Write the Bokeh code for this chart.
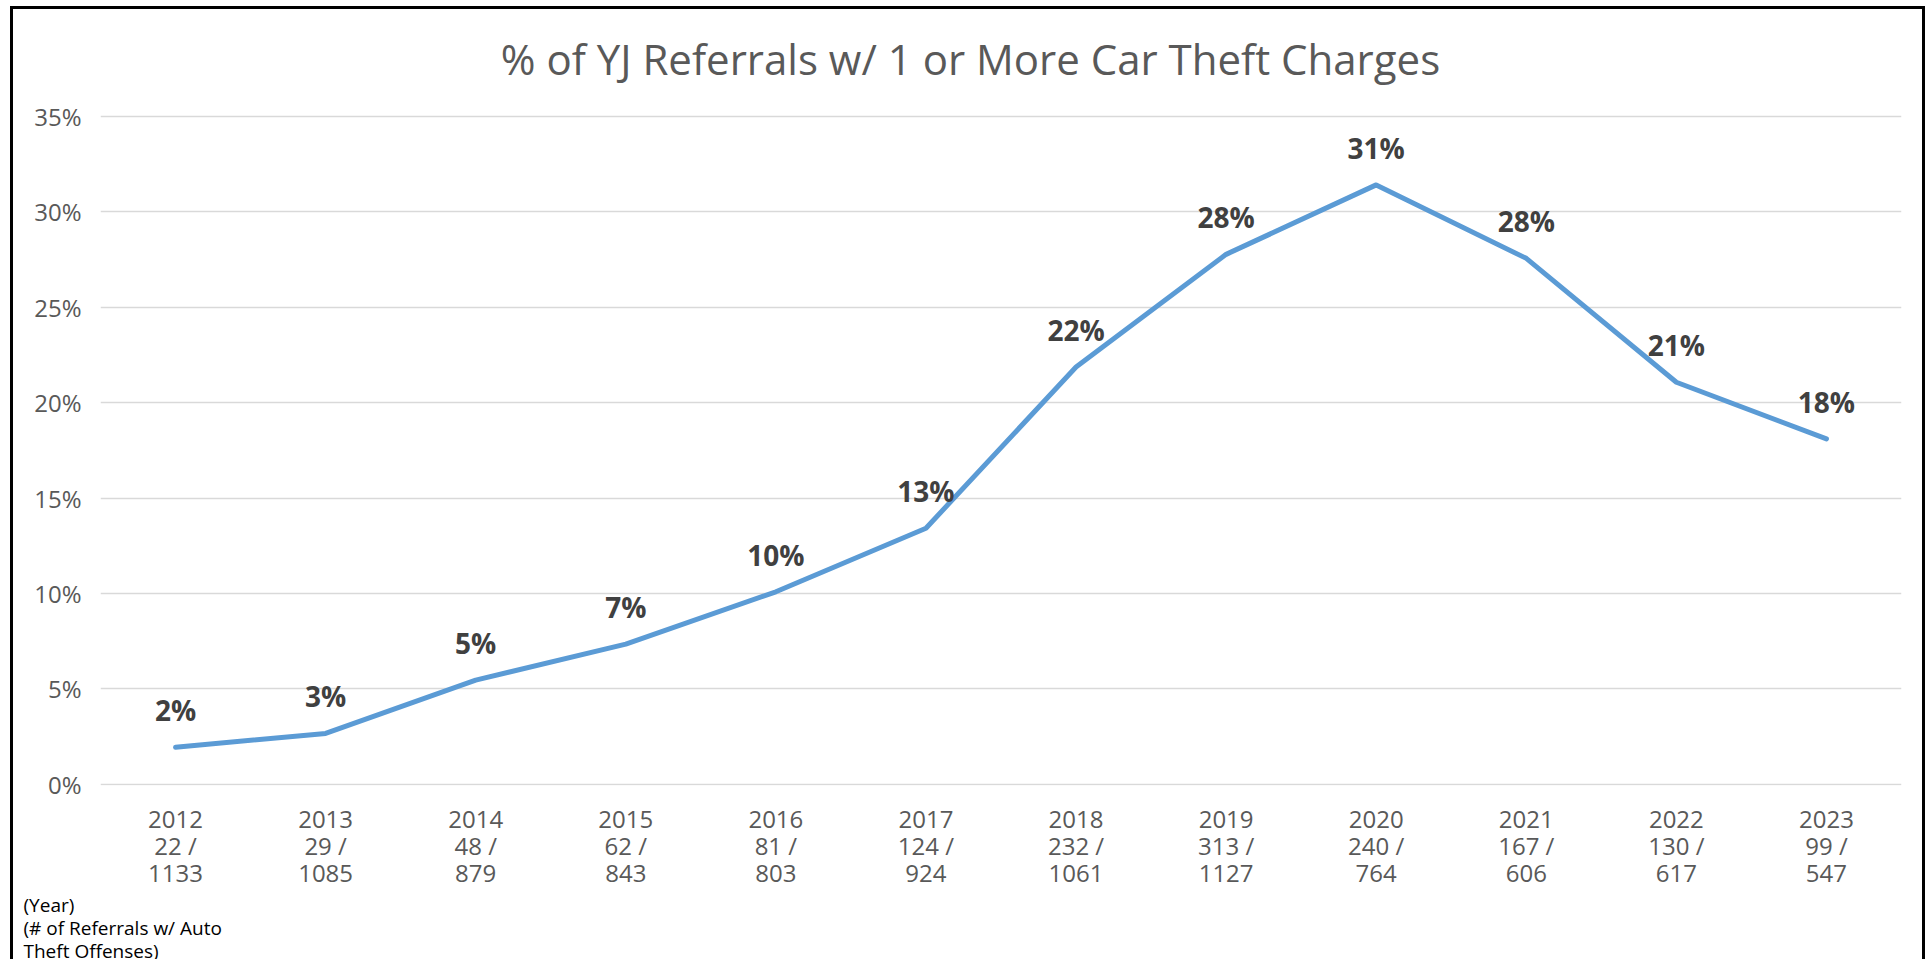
from bokeh.plotting import figure
from bokeh.models import (ColumnDataSource, FactorRange, Range1d, LabelSet, Label, Title,
                          NumeralTickFormatter)
from bokeh.core.properties import value
from bokeh.embed import file_html
from bokeh.resources import INLINE

# ---- data ----
years = ["2012", "2013", "2014", "2015", "2016", "2017", "2018", "2019", "2020", "2021", "2022", "2023"]
auto_theft = ["22", "29", "48", "62", "81", "124", "232", "313", "240", "167", "130", "99"]
referrals = ["1133", "1085", "879", "843", "803", "924", "1061", "1127", "764", "606", "617", "547"]
pct = [0.0194, 0.0267, 0.0546, 0.0735, 0.1009, 0.1342, 0.2187, 0.2777, 0.3141, 0.2756, 0.2107, 0.1810]
y_ticks = [0, 0.05, 0.10, 0.15, 0.20, 0.25, 0.30, 0.35]
title_text = "% of YJ Referrals w/ 1 or More Car Theft Charges"
footnote_lines = ["(Year)", "(# of Referrals w/ Auto", "Theft Offenses)"]

factors = [f"{y}\n{a} /\n{r}" for y, a, r in zip(years, auto_theft, referrals)]
labels = [f"{round(v * 100)}%" for v in pct]

src = ColumnDataSource(dict(x=factors, y=pct, lab=labels))

FONT = "Open Sans"

# frame runs to the top of the chart so the title can sit inside it
p = figure(width=1915, height=953, x_range=FactorRange(*factors, range_padding=0),
           y_range=Range1d(-0.0006, 0.406), output_backend="svg", toolbar_location=None,
           min_border_left=87, min_border_right=27, min_border_top=0, min_border_bottom=177)
p.styles = {"margin-left": "10px", "margin-top": "6px",
            "border-top": "3px solid black", "border-left": "3px solid black",
            "border-right": "3px solid black"}
p.outline_line_color = None
p.background_fill_color = "white"
p.border_fill_color = "white"

p.line("x", "y", source=src, line_color="#5B9BD5", line_width=5,
       line_join="round", line_cap="round")

p.add_layout(LabelSet(x="x", y="y", text="lab", source=src, y_offset=37,
                      text_align="center", text_baseline="middle",
                      text_font=value(FONT), text_font_size=value("28px"),
                      text_font_style="bold", text_color="#404040"))

# axes
p.yaxis.ticker = y_ticks
p.yaxis.formatter = NumeralTickFormatter(format="0%")
for ax in (p.xaxis, p.yaxis):
    ax.axis_line_color = None
    ax.major_tick_line_color = None
    ax.minor_tick_line_color = None
    ax.major_label_text_font = FONT
    ax.major_label_text_font_size = "24px"
    ax.major_label_text_color = "#595959"
p.yaxis.major_label_standoff = 13
p.xaxis.major_label_standoff = 10
p.xaxis.major_label_text_line_height = 0.82

p.xgrid.grid_line_color = None
p.ygrid.grid_line_color = "#d9d9d9"
p.ygrid.grid_line_width = 1.5

# title
p.add_layout(Label(x=870, y=727, x_units="screen", y_units="screen", text=title_text,
                   text_align="center", text_baseline="middle", text_font=FONT,
                   text_font_size="42px", text_color="#595959"))

# footnote
p.add_layout(Title(text="\n".join(footnote_lines), align="left", offset=-77, standoff=-3,
                   text_font=FONT, text_font_size="19px", text_font_style="normal",
                   text_color="#000000", text_line_height=0.88), "below")

open("out.html", "w").write(file_html(p, INLINE))
